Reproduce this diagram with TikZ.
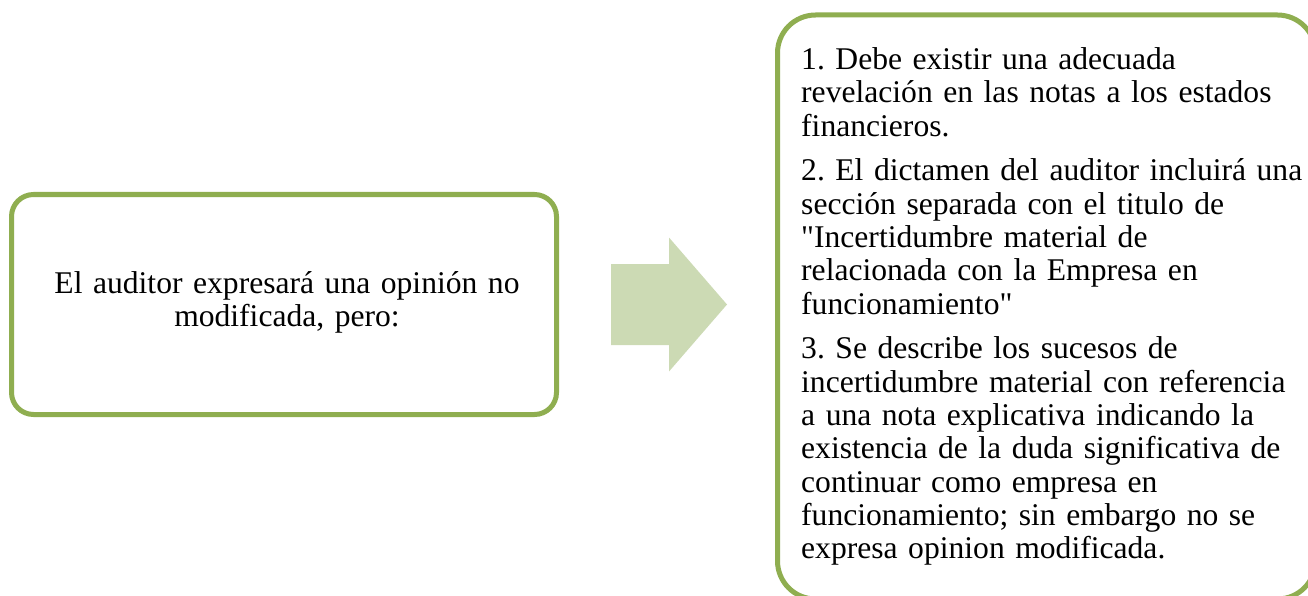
\documentclass[tikz,border=0pt]{standalone}
\usepackage{fontspec}
\setmainfont{Liberation Serif}
\frenchspacing
\definecolor{bordergreen}{HTML}{8FAE50}
\definecolor{arrowgreen}{HTML}{CCDAB4}
\tikzset{
  box/.style={draw=bordergreen, line width=5pt, fill=white, inner sep=0pt},
  txt/.style={inner sep=0pt, font=\fontsize{31.6}{33.3}\selectfont, text=black},
}
\begin{document}
\begin{tikzpicture}[x=1pt, y=-1pt]
\useasboundingbox (0,0) rectangle (1308,596);
% left box
\node[box, rounded corners=22pt, minimum width=545pt, minimum height=220pt] (leftbox) at (284,304.5) {};
\node[txt, align=center, anchor=base, text width=540pt] (lefttext) at (287,293) {El auditor expresará una opinión no\\modificada, pero:};
% block arrow
\fill[arrowgreen] (611,264) -- (669,264) -- (669,237.5) -- (727,304.5) -- (669,371.5) -- (669,345) -- (611,345) -- cycle;
% right box
\node[box, rounded corners=38pt, minimum width=538pt, minimum height=584pt] (rightbox) at (1046.5,307) {};
\node[txt, align=left, anchor=base west, text width=530pt] (righttext) at (801,69.5) {%
1. Debe existir una adecuada\\
revelación en las notas a los estados\\
financieros.\\[11.5pt]
2. El dictamen del auditor incluirá una\\
sección separada con el titulo de\\
\textquotedbl Incertidumbre material de\\
relacionada con la Empresa en\\
funcionamiento\textquotedbl\\[11.5pt]
3. Se describe los sucesos de\\
incertidumbre material con referencia\\
a una nota explicativa indicando la\\
existencia de la duda significativa de\\
continuar como empresa en\\
funcionamiento; sin embargo no se\\
expresa opinion modificada.};
\end{tikzpicture}
\end{document}
